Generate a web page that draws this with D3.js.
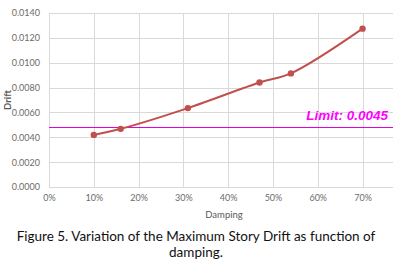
<!DOCTYPE html>
<html>
<head>
<meta charset="utf-8">
<script src="https://cdn.jsdelivr.net/npm/d3@7"></script>
<style>
  body { margin: 0; background: #fff; }
  svg { display: block; }
</style>
</head>
<body>
<svg width="403" height="267"></svg>
<script>
var damping = [0.10, 0.16, 0.31, 0.47, 0.54, 0.70];
var drift = [0.00419, 0.00468, 0.00635, 0.00841, 0.00914, 0.01274];
var limitValue = 0.0048;
var limitLabel = "Limit: 0.0045";
var xTicks = [0, 0.1, 0.2, 0.3, 0.4, 0.5, 0.6, 0.7];
var yTicks = [0, 0.002, 0.004, 0.006, 0.008, 0.010, 0.012, 0.014];

var svg = d3.select("svg");

var x = d3.scaleLinear().domain([0, 0.768]).range([49, 393]);
var y = d3.scaleLinear().domain([0, 0.014]).range([187, 13]);

var grid = svg.append("g");
grid.selectAll(".hg").data(yTicks).enter().append("line")
    .attr("x1", x(0)).attr("x2", x.range()[1])
    .attr("y1", function(d) { return Math.round(y(d)) + 0.5; })
    .attr("y2", function(d) { return Math.round(y(d)) + 0.5; })
    .style("stroke", "#d9d9d9").style("stroke-width", 1);
grid.selectAll(".vg").data(xTicks).enter().append("line")
    .attr("y1", y(0)).attr("y2", y(0.014))
    .attr("x1", function(d) { return Math.round(x(d)) + 0.5; })
    .attr("x2", function(d) { return Math.round(x(d)) + 0.5; })
    .style("stroke", "#d9d9d9").style("stroke-width", 1);

svg.append("g")
    .attr("transform", "translate(0," + y(0) + ")")
    .call(d3.axisBottom(x).tickValues(xTicks).tickSize(0).tickPadding(8).tickFormat(d3.format(".0%")));
svg.append("g")
    .attr("transform", "translate(" + x(0) + ",0)")
    .call(d3.axisLeft(y).tickValues(yTicks).tickSize(0).tickPadding(9).tickFormat(d3.format(".4f")));

svg.selectAll(".domain").remove();
svg.selectAll(".tick text")
    .style("font-family", "Lato, 'Open Sans', sans-serif")
    .style("font-size", "9px")
    .style("fill", "#6b6b6b");

// limit line
svg.append("line")
    .attr("x1", x(0)).attr("x2", x.range()[1])
    .attr("y1", Math.round(y(limitValue)) + 0.5).attr("y2", Math.round(y(limitValue)) + 0.5)
    .style("stroke", "#e000e0").style("stroke-width", 1);

svg.append("text")
    .attr("x", 388).attr("y", 120)
    .attr("text-anchor", "end")
    .style("font-family", "'Liberation Sans', Arial, sans-serif")
    .style("font-weight", "bold")
    .style("font-style", "italic")
    .style("font-size", "13.5px")
    .style("fill", "#ff00ff")
    .text(limitLabel);

var pts = damping.map(function(d, i) { return [d, drift[i]]; });

var line = d3.line()
    .x(function(d) { return x(d[0]); })
    .y(function(d) { return y(d[1]); })
    .curve(d3.curveCatmullRom.alpha(0.5));

svg.append("path")
    .datum(pts)
    .attr("d", line)
    .style("fill", "none")
    .style("stroke", "#c0504d")
    .style("stroke-width", 2);

svg.selectAll(".pt").data(pts).enter().append("circle")
    .attr("cx", function(d) { return x(d[0]); })
    .attr("cy", function(d) { return y(d[1]); })
    .attr("r", 3.2)
    .style("fill", "#c0504d");

svg.append("text")
    .attr("transform", "translate(11," + y(0.007) + ") rotate(-90)")
    .attr("text-anchor", "middle")
    .style("font-family", "Lato, 'Open Sans', sans-serif")
    .style("font-size", "9.5px")
    .style("font-weight", "bold")
    .style("fill", "#595959")
    .text("Drift");

svg.append("text")
    .attr("x", (x(0) + x.range()[1]) / 2 + 3).attr("y", 218)
    .attr("text-anchor", "middle")
    .style("font-family", "Lato, 'Open Sans', sans-serif")
    .style("font-size", "9.5px")
    .style("fill", "#595959")
    .text("Damping");

svg.append("text")
    .attr("x", 196).attr("y", 241)
    .attr("text-anchor", "middle")
    .style("font-family", "Lato, 'Open Sans', sans-serif")
    .style("font-size", "13.5px")
    .style("fill", "#111")
    .text("Figure 5. Variation of the Maximum Story Drift as function of");

svg.append("text")
    .attr("x", 196).attr("y", 257)
    .attr("text-anchor", "middle")
    .style("font-family", "Lato, 'Open Sans', sans-serif")
    .style("font-size", "13.5px")
    .style("fill", "#111")
    .text("damping.");
</script>
</body>
</html>
